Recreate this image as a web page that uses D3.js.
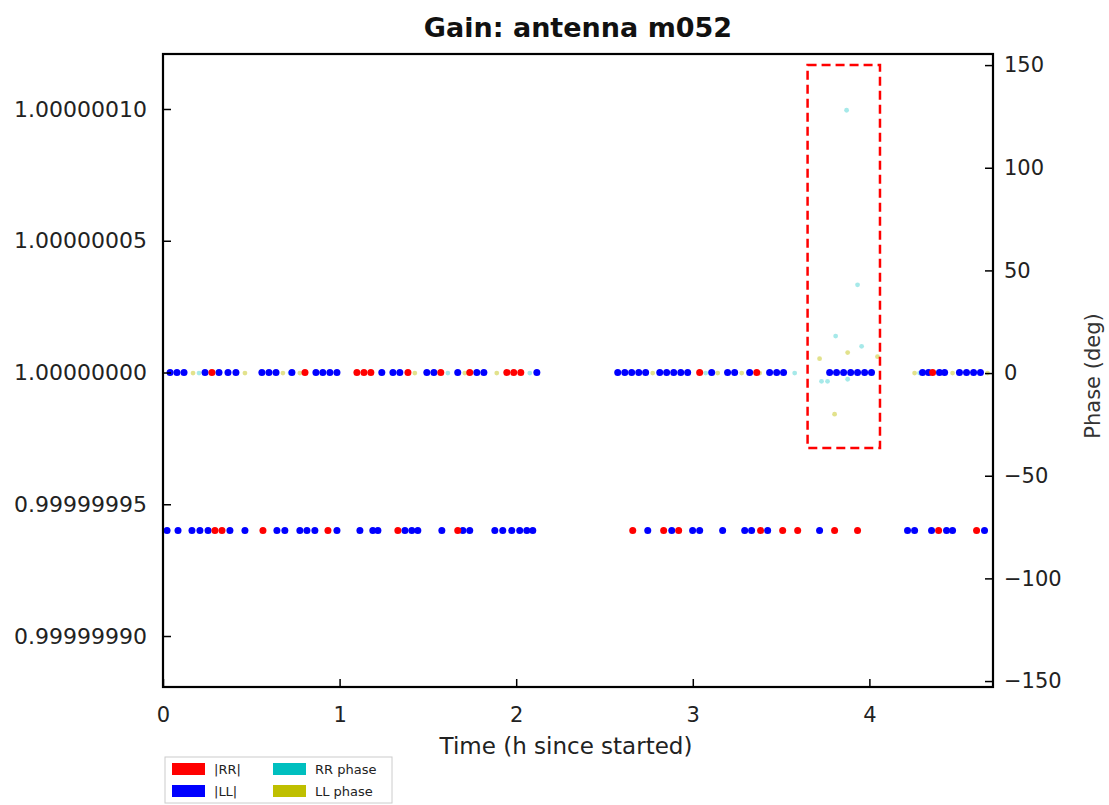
<!DOCTYPE html>
<html><head><meta charset="utf-8">
<script src="https://cdn.jsdelivr.net/npm/d3@7"></script>
<style>body{margin:0;background:#fff;font-family:"DejaVu Sans",sans-serif;}</style>
</head><body>
<svg id="chart" width="1109" height="805"></svg>
<script>
// ---- data (time in hours since start) ----
const title = "Gain: antenna m052";
const xTicks = [0, 1, 2, 3, 4];
const ampTicks = [0.9999999, 0.99999995, 1.0, 1.00000005, 1.0000001];
const phaseTicks = [-150, -100, -50, 0, 50, 100, 150];
const legendLabels = ["|RR|", "|LL|", "RR phase", "LL phase"];

// |LL| amplitude, upper band
const llAmpTop = [[0.040,1],[0.079,1],[0.119,1],[0.238,1],[0.317,1],[0.368,1],[0.413,1],[0.560,1],[0.600,1],[0.640,1],[0.730,1],[0.866,1],[0.905,1],[0.945,1],[0.985,1],[1.239,1],[1.302,1],[1.341,1],[1.494,1],[1.534,1],[1.669,1],[1.777,1],[1.817,1],[2.117,1],
 [2.575,1],[2.615,1],[2.654,1],[2.694,1],[2.733,1],[2.813,1],[2.852,1],[2.892,1],[2.932,1],[2.971,1],[3.107,1],[3.197,1],[3.237,1],[3.322,1],[3.435,1],[3.475,1],[3.514,1],[3.775,1],[3.814,1],[3.854,1],[3.894,1],[3.933,1],[3.973,1],[4.012,1],[4.301,1],[4.335,1],[4.397,1],[4.426,1],[4.510,1],[4.550,1],[4.590,1],[4.629,1]];
// |RR| amplitude, upper band
const rrAmpTop = [[0.277,1],[0.804,1],[1.098,1],[1.138,1],[1.177,1],[1.387,1],[1.573,1],[1.737,1],[1.947,1],[1.986,1],[2.026,1],[3.039,1],[3.362,1],[4.358,1]];
// |LL| amplitude, lower band
const llAmpLow = [[0.023,0.99999994],[0.085,0.99999994],[0.164,0.99999994],[0.209,0.99999994],[0.255,0.99999994],[0.379,0.99999994],[0.464,0.99999994],[0.645,0.99999994],[0.690,0.99999994],[0.775,0.99999994],[0.815,0.99999994],[0.860,0.99999994],[0.985,0.99999994],[1.115,0.99999994],[1.188,0.99999994],[1.217,0.99999994],[1.370,0.99999994],[1.409,0.99999994],[1.443,0.99999994],[1.579,0.99999994],[1.698,0.99999994],[1.737,0.99999994],[1.879,0.99999994],[1.924,0.99999994],[1.975,0.99999994],[2.020,0.99999994],[2.060,0.99999994],[2.094,0.99999994],
 [2.745,0.99999994],[2.881,0.99999994],[2.999,0.99999994],[3.039,0.99999994],[3.169,0.99999994],[3.294,0.99999994],[3.333,0.99999994],[3.424,0.99999994],[3.718,0.99999994],[4.216,0.99999994],[4.256,0.99999994],[4.352,0.99999994],[4.437,0.99999994],[4.471,0.99999994],[4.652,0.99999994]];
// |RR| amplitude, lower band
const rrAmpLow = [[0.294,0.99999994],[0.334,0.99999994],[0.566,0.99999994],[0.934,0.99999994],[1.330,0.99999994],[1.669,0.99999994],[2.660,0.99999994],[2.835,0.99999994],[2.920,0.99999994],[3.384,0.99999994],[3.509,0.99999994],[3.594,0.99999994],[3.803,0.99999994],[3.933,0.99999994],[4.392,0.99999994],[4.607,0.99999994]];
// phases (deg)
const rrPhase = [[0.204,0],[0.719,0],[1.613,0],[2.077,0],[3.073,0],[3.577,0],[4.284,0],
 [3.809,18],[3.933,43],[3.729,-4],[3.763,-4],[3.877,-3],[3.956,13],[3.871,128]];
const llPhase = [[0.170,0],[0.464,0],[0.679,0],[0.775,0],[1.426,0],[1.709,0],[1.890,0],[2.773,0],[3.141,0],[3.277,0],[3.379,0],[4.256,0],[4.471,0],[4.669,0],
 [3.718,7],[3.877,10],[3.803,-20],[4.046,8]];
// highlight box: [t0, t1, phaseTop, phaseBottom]
const boxRange = [3.65, 4.06, 150, -36.5];

const colors = {rr:"#ff0000", ll:"#0000ff", rrph:"#00bfbf", llph:"#bfbf00"};

// ---- layout ----
const svg = d3.select("#chart");
const L = 163, R = 993, T = 54, B = 687;
const x = d3.scaleLinear().domain([0, 4.70]).range([L, R]);
const yA = d3.scaleLinear().domain([0.99999988065, 1.00000012087]).range([B, T]);
const yP = d3.scaleLinear().domain([-152.9, 155.4]).range([B, T]);

// title
svg.append("text").attr("x", (L+R)/2).attr("y", 37).attr("text-anchor","middle")
  .attr("font-size", 27).attr("font-weight","bold").attr("fill","#111").text(title);

// points
function dots(data, scaleY, color, r, op){
  svg.append("g").selectAll("circle").data(data).join("circle")
    .attr("cx", d => x(d[0])).attr("cy", d => scaleY(d[1])).attr("r", r)
    .attr("fill", color).attr("fill-opacity", op);
}
dots(rrPhase, yP, colors.rrph, 2.4, 0.35);
dots(llPhase, yP, colors.llph, 2.4, 0.45);
dots(llAmpTop, yA, colors.ll, 3.5, 1);
dots(rrAmpTop, yA, colors.rr, 3.5, 1);
dots(llAmpLow, yA, colors.ll, 3.5, 1);
dots(rrAmpLow, yA, colors.rr, 3.5, 1);

// highlight box
svg.append("rect")
  .attr("x", x(boxRange[0])).attr("y", yP(boxRange[2]))
  .attr("width", x(boxRange[1]) - x(boxRange[0])).attr("height", yP(boxRange[3]) - yP(boxRange[2]))
  .attr("fill","none").attr("stroke","#ff0000").attr("stroke-width",2.5).attr("stroke-dasharray","9,5");

// axes (inward ticks)
const gx = svg.append("g").attr("transform",`translate(0,${B})`)
  .call(d3.axisTop(x).tickValues(xTicks).tickSize(8).tickFormat(d3.format("d")));
gx.selectAll("text").attr("y", 35).attr("dy", null);
const gl = svg.append("g").attr("transform",`translate(${L},0)`)
  .call(d3.axisRight(yA).tickValues(ampTicks).tickSize(8).tickFormat(d3.format(".8f")));
gl.selectAll("text").attr("x", -16).attr("text-anchor","end");
const gr = svg.append("g").attr("transform",`translate(${R},0)`)
  .call(d3.axisLeft(yP).tickValues(phaseTicks).tickSize(8).tickFormat(d => d < 0 ? "\u2212" + Math.abs(d) : String(d)));
gr.selectAll("text").attr("x", 11).attr("text-anchor","start");
[[gx,21], [gl,22], [gr,21]].forEach(([g,fs]) => {
  g.select(".domain").remove();
  g.selectAll("line").attr("stroke","#000").attr("stroke-width",1.5);
  g.selectAll("text").attr("font-size", fs).attr("font-family","DejaVu Sans").attr("fill","#222");
});

// frame
svg.append("rect").attr("x",L).attr("y",T).attr("width",R-L).attr("height",B-T)
  .attr("fill","none").attr("stroke","#000").attr("stroke-width",2.2);

// axis labels
svg.append("text").attr("x",(L+R)/2-12).attr("y",754).attr("text-anchor","middle")
  .attr("font-size",23).attr("fill","#222").text("Time (h since started)");
svg.append("text").attr("transform",`translate(1100,376) rotate(-90)`).attr("text-anchor","middle")
  .attr("font-size",21).attr("fill","#333").text("Phase (deg)");

// legend
const lg = svg.append("g");
lg.append("rect").attr("x",165).attr("y",757).attr("width",227).attr("height",46)
  .attr("fill","#fff").attr("stroke","#ccc").attr("stroke-width",1);
const legCols = [colors.rr, colors.ll, colors.rrph, colors.llph];
legendLabels.forEach((lab,i) => {
  const col = Math.floor(i/2), row = i%2;
  const lx = 172 + col*101, ly = 763 + row*22;
  lg.append("rect").attr("x",lx).attr("y",ly).attr("width",33).attr("height",12).attr("fill",legCols[i]);
  lg.append("text").attr("x",lx+42).attr("y",ly+11).attr("font-size",13).attr("fill","#222").text(lab);
});
</script>
</body></html>
